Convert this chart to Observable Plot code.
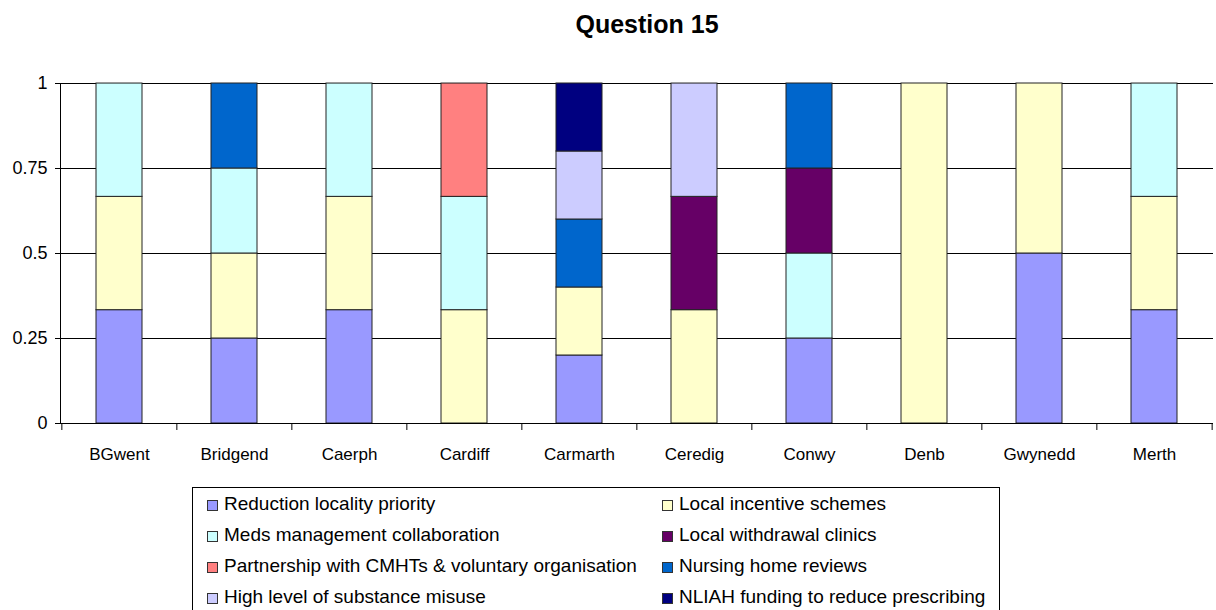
<!DOCTYPE html>
<html>
<head>
<meta charset="utf-8">
<script src="https://cdn.jsdelivr.net/npm/d3@7"></script>
<script src="https://cdn.jsdelivr.net/npm/@observablehq/plot@0.6"></script>
<style>
  html, body { margin: 0; padding: 0; background: #fff; }
  body { width: 1216px; height: 610px; overflow: hidden; position: relative; font-family: "Liberation Sans", Arial, sans-serif; }
  #title { position: absolute; top: 9px; left: 0; width: 1294px; text-align: center; font-weight: bold; font-size: 25px; line-height: 30px; color: #000; }
  #chart { position: absolute; top: 0; left: 0; }
  #legend { position: absolute; left: 192px; top: 487px; width: 808px; height: 140px; border: 1px solid #000; box-sizing: border-box; }
  .item { position: absolute; height: 31px; line-height: 31px; font-size: 19px; color: #000; white-space: nowrap; }
  .sw { display: inline-block; width: 11px; height: 11px; border: 1px solid #333; box-sizing: border-box; margin-right: 6px; vertical-align: -1px; }
</style>
</head>
<body>
<div id="chart"></div>
<div id="title">Question 15</div>
<div id="legend"></div>
<script>
const categories = ["BGwent", "Bridgend", "Caerph", "Cardiff", "Carmarth", "Ceredig", "Conwy", "Denb", "Gwynedd", "Merth"];
const seriesNames = [
  "Reduction locality priority",
  "Local incentive schemes",
  "Meds management collaboration",
  "Local withdrawal clinics",
  "Partnership with CMHTs & voluntary organisation",
  "Nursing home reviews",
  "High level of substance misuse",
  "NLIAH funding to reduce prescribing"
];
const seriesColors = ["#9999FF", "#FFFFCC", "#CCFFFF", "#660066", "#FF8080", "#0066CC", "#CCCCFF", "#000080"];
const reduction   = [0.3333, 0.25, 0.3333, 0,      0.2, 0,      0.25, 0, 0.5, 0.3333];
const incentive   = [0.3333, 0.25, 0.3333, 0.3333, 0.2, 0.3333, 0,    1, 0.5, 0.3333];
const meds        = [0.3333, 0.25, 0.3333, 0.3333, 0,   0,      0.25, 0, 0,   0.3333];
const withdrawal  = [0,      0,    0,      0,      0,   0.3333, 0.25, 0, 0,   0];
const partnership = [0,      0,    0,      0.3333, 0,   0,      0,    0, 0,   0];
const nursing     = [0,      0.25, 0,      0,      0.2, 0,      0.25, 0, 0,   0];
const highLevel   = [0,      0,    0,      0,      0.2, 0.3333, 0,    0, 0,   0];
const nliah       = [0,      0,    0,      0,      0.2, 0,      0,    0, 0,   0];
const yTicks = [0, 0.25, 0.5, 0.75, 1];

const seriesValues = [reduction, incentive, meds, withdrawal, partnership, nursing, highLevel, nliah];
const rows = [];
seriesNames.forEach((s, i) => {
  categories.forEach((c, j) => {
    const v = seriesValues[i][j];
    if (v > 0) rows.push({cat: c, series: s, value: v});
  });
});

const W = 1216, ML = 60, MR = 3;
const step = (W - ML - MR) / categories.length;

const chart = Plot.plot({
  width: W,
  height: 480,
  marginLeft: ML,
  marginRight: MR,
  marginTop: 83,
  marginBottom: 57,
  style: {fontFamily: "'Liberation Sans', Arial, sans-serif", fontSize: "17px", color: "#000", background: "transparent"},
  x: {domain: categories, paddingInner: 0.6, paddingOuter: 0.3, axis: null, label: null},
  y: {domain: [0, 1], axis: null, label: null},
  color: {domain: seriesNames, range: seriesColors},
  marks: [
    Plot.ruleY(yTicks.filter(d => d > 0), {stroke: "#000", strokeWidth: 1}),
    Plot.barY(rows, {x: "cat", y: "value", fill: "series", order: seriesNames, stroke: "#222", strokeWidth: 1}),
    Plot.ruleY([0], {stroke: "#000", strokeWidth: 1}),
    Plot.frame({anchor: "left", stroke: "#000", strokeWidth: 1}),
    Plot.axisY({ticks: yTicks, tickFormat: d => String(d), tickSize: 5, tickPadding: 8, stroke: "#000", fill: "#000", fontSize: 18, label: null}),
    Plot.axisX({tickSize: 0, tickPadding: 24, fill: "#000", fontSize: 17, label: null}),
    Plot.axisX({tickSize: 7, tickFormat: () => "", dx: -step / 2, stroke: "#000", label: null}),
    Plot.axisX({ticks: [categories[categories.length - 1]], tickSize: 7, tickFormat: () => "", dx: step / 2, stroke: "#000", label: null})
  ]
});
document.getElementById("chart").appendChild(chart);

const legend = document.getElementById("legend");
const colLeft = [14, 469];
seriesNames.forEach((s, i) => {
  const row = Math.floor(i / 2), col = i % 2;
  const div = document.createElement("div");
  div.className = "item";
  div.style.left = colLeft[col] + "px";
  div.style.top = (row * 31) + "px";
  const sw = document.createElement("span");
  sw.className = "sw";
  sw.style.background = seriesColors[i];
  div.appendChild(sw);
  div.appendChild(document.createTextNode(s));
  legend.appendChild(div);
});
</script>
</body>
</html>
